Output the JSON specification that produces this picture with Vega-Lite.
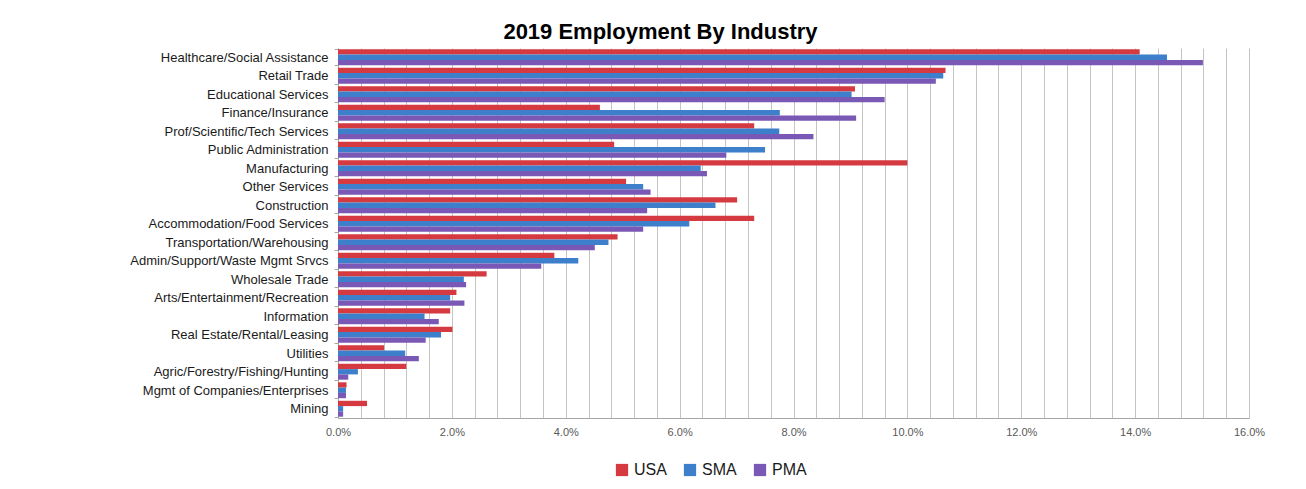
{
  "$schema": "https://vega.github.io/schema/vega-lite/v6.json",
  "autosize": {"type": "none"},
  "padding": {"left": 338, "top": 48, "right": 57, "bottom": 71},
  "width": 911,
  "height": 370,
  "background": "white",
  "title": {
    "text": "2019 Employment By Industry",
    "font": "Liberation Sans",
    "fontSize": 22,
    "fontWeight": "bold",
    "color": "#000000",
    "anchor": "middle",
    "frame": "group",
    "dx": -133,
    "offset": -2
  },
  "config": {
    "font": "Liberation Sans",
    "view": {"stroke": null}
  },
  "data": {
    "values": [
      {"industry": "Healthcare/Social Assistance", "area": "USA", "share": 0.1408},
      {"industry": "Healthcare/Social Assistance", "area": "SMA", "share": 0.1456},
      {"industry": "Healthcare/Social Assistance", "area": "PMA", "share": 0.1519},
      {"industry": "Retail Trade", "area": "USA", "share": 0.1067},
      {"industry": "Retail Trade", "area": "SMA", "share": 0.1063},
      {"industry": "Retail Trade", "area": "PMA", "share": 0.1050},
      {"industry": "Educational Services", "area": "USA", "share": 0.0908},
      {"industry": "Educational Services", "area": "SMA", "share": 0.0902},
      {"industry": "Educational Services", "area": "PMA", "share": 0.0960},
      {"industry": "Finance/Insurance", "area": "USA", "share": 0.0460},
      {"industry": "Finance/Insurance", "area": "SMA", "share": 0.0776},
      {"industry": "Finance/Insurance", "area": "PMA", "share": 0.0910},
      {"industry": "Prof/Scientific/Tech Services", "area": "USA", "share": 0.0731},
      {"industry": "Prof/Scientific/Tech Services", "area": "SMA", "share": 0.0775},
      {"industry": "Prof/Scientific/Tech Services", "area": "PMA", "share": 0.0835},
      {"industry": "Public Administration", "area": "USA", "share": 0.0485},
      {"industry": "Public Administration", "area": "SMA", "share": 0.0750},
      {"industry": "Public Administration", "area": "PMA", "share": 0.0682},
      {"industry": "Manufacturing", "area": "USA", "share": 0.1000},
      {"industry": "Manufacturing", "area": "SMA", "share": 0.0637},
      {"industry": "Manufacturing", "area": "PMA", "share": 0.0648},
      {"industry": "Other Services", "area": "USA", "share": 0.0506},
      {"industry": "Other Services", "area": "SMA", "share": 0.0536},
      {"industry": "Other Services", "area": "PMA", "share": 0.0549},
      {"industry": "Construction", "area": "USA", "share": 0.0701},
      {"industry": "Construction", "area": "SMA", "share": 0.0663},
      {"industry": "Construction", "area": "PMA", "share": 0.0543},
      {"industry": "Accommodation/Food Services", "area": "USA", "share": 0.0731},
      {"industry": "Accommodation/Food Services", "area": "SMA", "share": 0.0617},
      {"industry": "Accommodation/Food Services", "area": "PMA", "share": 0.0536},
      {"industry": "Transportation/Warehousing", "area": "USA", "share": 0.0491},
      {"industry": "Transportation/Warehousing", "area": "SMA", "share": 0.0475},
      {"industry": "Transportation/Warehousing", "area": "PMA", "share": 0.0451},
      {"industry": "Admin/Support/Waste Mgmt Srvcs", "area": "USA", "share": 0.0380},
      {"industry": "Admin/Support/Waste Mgmt Srvcs", "area": "SMA", "share": 0.0422},
      {"industry": "Admin/Support/Waste Mgmt Srvcs", "area": "PMA", "share": 0.0357},
      {"industry": "Wholesale Trade", "area": "USA", "share": 0.0261},
      {"industry": "Wholesale Trade", "area": "SMA", "share": 0.0221},
      {"industry": "Wholesale Trade", "area": "PMA", "share": 0.0225},
      {"industry": "Arts/Entertainment/Recreation", "area": "USA", "share": 0.0208},
      {"industry": "Arts/Entertainment/Recreation", "area": "SMA", "share": 0.0197},
      {"industry": "Arts/Entertainment/Recreation", "area": "PMA", "share": 0.0222},
      {"industry": "Information", "area": "USA", "share": 0.0197},
      {"industry": "Information", "area": "SMA", "share": 0.0152},
      {"industry": "Information", "area": "PMA", "share": 0.0177},
      {"industry": "Real Estate/Rental/Leasing", "area": "USA", "share": 0.0201},
      {"industry": "Real Estate/Rental/Leasing", "area": "SMA", "share": 0.0181},
      {"industry": "Real Estate/Rental/Leasing", "area": "PMA", "share": 0.0154},
      {"industry": "Utilities", "area": "USA", "share": 0.0081},
      {"industry": "Utilities", "area": "SMA", "share": 0.0118},
      {"industry": "Utilities", "area": "PMA", "share": 0.0142},
      {"industry": "Agric/Forestry/Fishing/Hunting", "area": "USA", "share": 0.0120},
      {"industry": "Agric/Forestry/Fishing/Hunting", "area": "SMA", "share": 0.0035},
      {"industry": "Agric/Forestry/Fishing/Hunting", "area": "PMA", "share": 0.0018},
      {"industry": "Mgmt of Companies/Enterprises", "area": "USA", "share": 0.0015},
      {"industry": "Mgmt of Companies/Enterprises", "area": "SMA", "share": 0.0014},
      {"industry": "Mgmt of Companies/Enterprises", "area": "PMA", "share": 0.0014},
      {"industry": "Mining", "area": "USA", "share": 0.0051},
      {"industry": "Mining", "area": "SMA", "share": 0.0009},
      {"industry": "Mining", "area": "PMA", "share": 0.0009}
    ]
  },
  "mark": {"type": "bar"},
  "encoding": {
    "y": {
      "field": "industry",
      "type": "nominal",
      "sort": null,
      "scale": {"paddingInner": 0.14, "paddingOuter": 0.07},
      "axis": {
        "title": null,
        "labelFontSize": 13,
        "labelColor": "#1a1a1a",
        "labelPadding": 6,
        "tickBand": "extent",
        "tickSize": 4,
        "tickColor": "#a6a6a6",
        "domainColor": "#a6a6a6",
        "grid": false,
        "labelLimit": 400
      }
    },
    "yOffset": {
      "field": "area",
      "type": "nominal",
      "sort": ["USA", "SMA", "PMA"]
    },
    "x": {
      "field": "share",
      "type": "quantitative",
      "scale": {"domain": [0, 0.16], "nice": false, "zero": true},
      "axis": {
        "title": null,
        "format": ".1%",
        "values": [0, 0.004, 0.008, 0.012, 0.016, 0.02, 0.024, 0.028, 0.032, 0.036, 0.04, 0.044, 0.048, 0.052, 0.056, 0.06, 0.064, 0.068, 0.072, 0.076, 0.08, 0.084, 0.088, 0.092, 0.096, 0.1, 0.104, 0.108, 0.112, 0.116, 0.12, 0.124, 0.128, 0.132, 0.136, 0.14, 0.144, 0.148, 0.152, 0.156, 0.16],
        "labelExpr": "round(datum.value * 1000) % 20 == 0 ? datum.label : ''",
        "labelOverlap": false,
        "labelFlush": false,
        "labelFontSize": 11,
        "labelColor": "#595959",
        "labelPadding": 8,
        "grid": true,
        "gridColor": "#c4c4c4",
        "gridWidth": 1,
        "ticks": false,
        "domainColor": "#a6a6a6"
      }
    },
    "color": {
      "field": "area",
      "type": "nominal",
      "scale": {"domain": ["USA", "SMA", "PMA"], "range": ["#d43a3f", "#3d7fca", "#7a58b5"]},
      "legend": {
        "title": null,
        "orient": "none",
        "direction": "horizontal",
        "legendX": 276,
        "legendY": 414,
        "padding": 0,
        "symbolType": "square",
        "symbolSize": 150,
        "symbolStrokeWidth": 0,
        "labelFontSize": 16,
        "labelColor": "#1a1a1a",
        "labelOffset": 4,
        "columnPadding": 15
      }
    }
  }
}
